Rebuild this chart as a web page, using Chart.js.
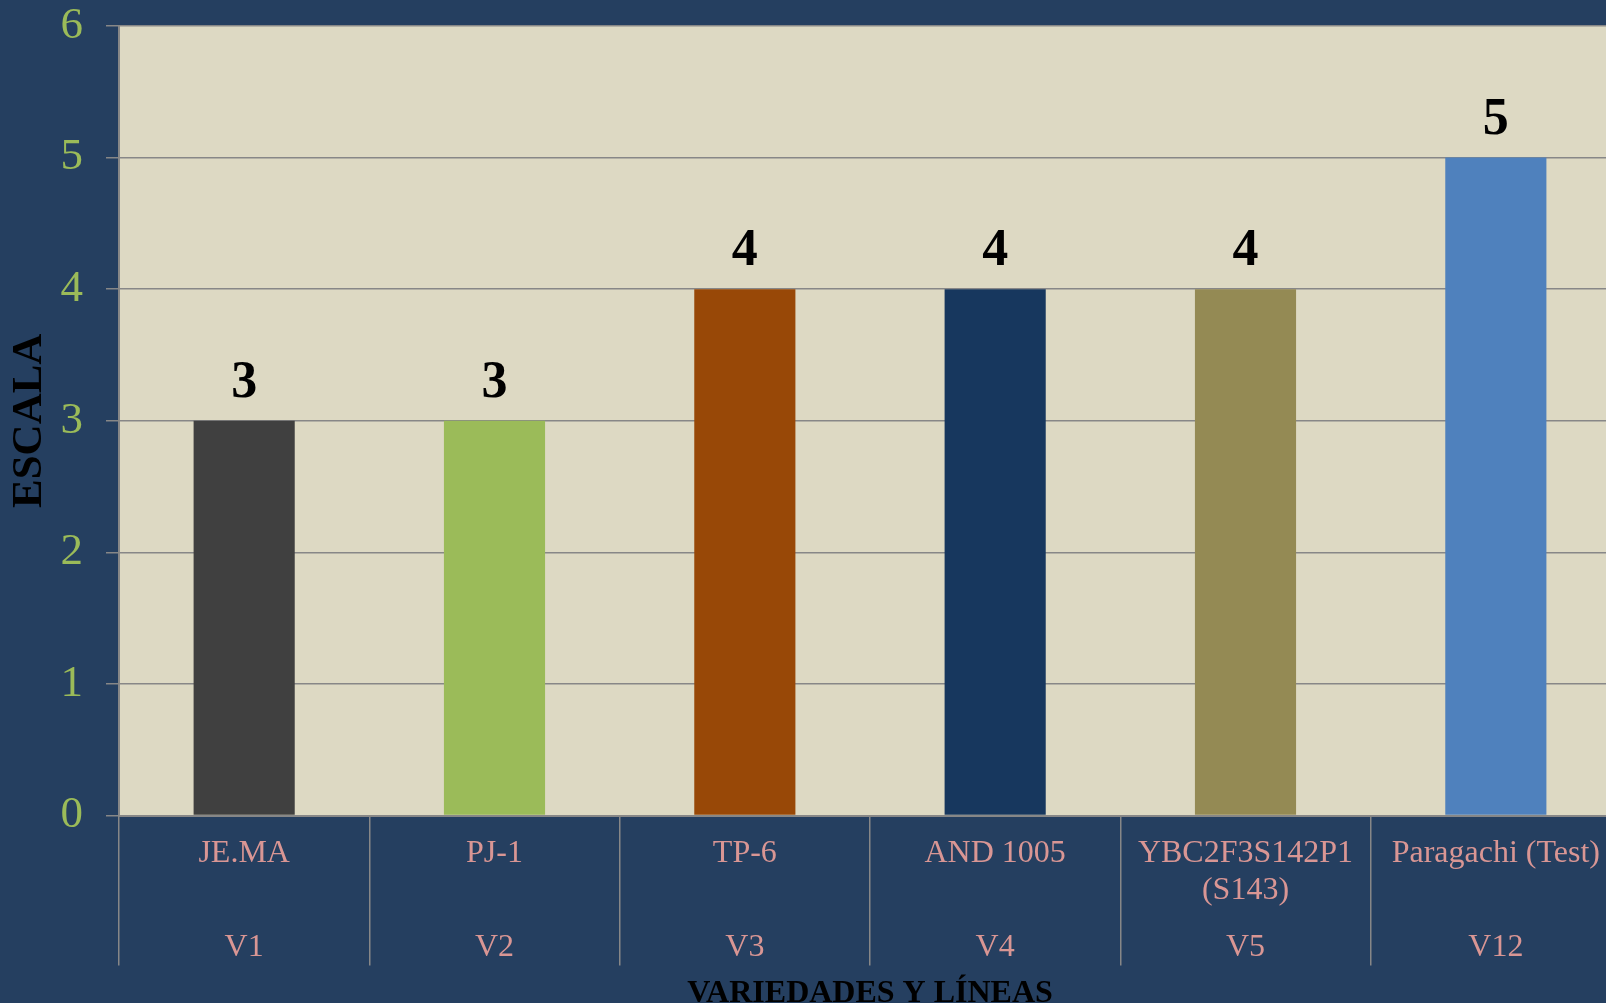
<!DOCTYPE html>
<html lang="es">
<head>
<meta charset="utf-8">
<title>Escala por variedad</title>
<script src="https://cdn.jsdelivr.net/npm/chart.js@4.4.1/dist/chart.umd.min.js"></script>
<style>
  html, body { margin: 0; padding: 0; background: #253f60; overflow: hidden; }
  canvas { display: block; }
</style>
</head>
<body>
<canvas id="grafico" width="1621" height="1003"></canvas>
<script>
// Datos
const variedades = ['JE.MA', 'PJ-1', 'TP-6', 'AND 1005', ['YBC2F3S142P1', '(S143)'], 'Paragachi (Test)'];
const codigos = ['V1', 'V2', 'V3', 'V4', 'V5', 'V12'];
const escala = [3, 3, 4, 4, 4, 5];
const coloresBarras = ['#404040', '#9bbb59', '#984807', '#17375e', '#948a54', '#4f81bd'];

const serif = "'Liberation Serif', 'Times New Roman', serif";
const gris = '#878787';

// Fondo del area de trazado
const fondoArea = {
    id: 'fondoArea',
    beforeDraw(chart) {
        const { ctx, chartArea: a } = chart;
        ctx.save();
        ctx.fillStyle = '#ddd9c3';
        ctx.fillRect(a.left, a.top, a.right - a.left, a.bottom - a.top);
        ctx.restore();
    }
};

// Valores encima de cada barra
const etiquetasValor = {
    id: 'etiquetasValor',
    afterDatasetsDraw(chart) {
        const { ctx } = chart;
        const meta = chart.getDatasetMeta(0);
        ctx.save();
        ctx.font = 'bold 52px ' + serif;
        ctx.fillStyle = '#000';
        ctx.textAlign = 'center';
        ctx.textBaseline = 'alphabetic';
        meta.data.forEach((bar, i) => {
            ctx.fillText(String(escala[i]), bar.x, bar.y - 24);
        });
        ctx.restore();
    }
};

// Segundo nivel del eje X (codigos) y titulo del eje
const ejeInferior = {
    id: 'ejeInferior',
    afterDraw(chart) {
        const { ctx, chartArea: a } = chart;
        const x = chart.scales.x;
        ctx.save();
        ctx.font = '32px ' + serif;
        ctx.fillStyle = '#d99694';
        ctx.textAlign = 'center';
        ctx.textBaseline = 'middle';
        codigos.forEach((c, i) => {
            ctx.fillText(c, x.getPixelForValue(i), a.bottom + 132);
        });
        ctx.font = 'bold 32px ' + serif;
        ctx.fillStyle = '#000';
        ctx.textBaseline = 'alphabetic';
        ctx.fillText('VARIEDADES Y LÍNEAS', (a.left + a.right) / 2, a.bottom + 186);
        ctx.restore();
    }
};

const ctx = document.getElementById('grafico').getContext('2d');
const grafico = new Chart(ctx, {
    type: 'bar',
    data: {
        labels: variedades,
        datasets: [{
            data: escala,
            backgroundColor: coloresBarras,
            borderWidth: 0,
            categoryPercentage: 1,
            barPercentage: 0.404
        }]
    },
    options: {
        responsive: false,
        animation: false,
        layout: { padding: { top: 26, right: 0, bottom: 0, left: 0 } },
        plugins: {
            legend: { display: false },
            tooltip: { enabled: false }
        },
        scales: {
            x: {
                afterFit(scale) {
                    scale.height = 187.4;
                    scale.paddingLeft = 0;
                    scale.paddingRight = 0;
                },
                grid: {
                    offset: true,
                    drawOnChartArea: false,
                    color: gris,
                    lineWidth: 1.5,
                    tickLength: 150
                },
                border: { color: gris, width: 2 },
                ticks: {
                    color: '#d99694',
                    font: { family: serif, size: 32, lineHeight: 1.16 },
                    padding: -131,
                    maxRotation: 0,
                    autoSkip: false
                }
            },
            y: {
                min: 0,
                max: 6,
                afterFit(scale) {
                    scale.width = 119;
                    scale.paddingTop = 0;
                    scale.paddingBottom = 0;
                },
                grid: { color: gris, lineWidth: 1.5, tickLength: 13 },
                border: { color: gris, width: 2 },
                ticks: {
                    stepSize: 1,
                    color: '#9bbb59',
                    font: { family: serif, size: 45 },
                    padding: 23
                },
                title: {
                    display: true,
                    text: 'ESCALA',
                    color: '#000',
                    font: { family: serif, size: 43, weight: 'bold', lineHeight: 1.2 },
                    padding: { top: 4, bottom: 0 }
                }
            }
        }
    },
    plugins: [fondoArea, etiquetasValor, ejeInferior]
});
</script>
</body>
</html>
